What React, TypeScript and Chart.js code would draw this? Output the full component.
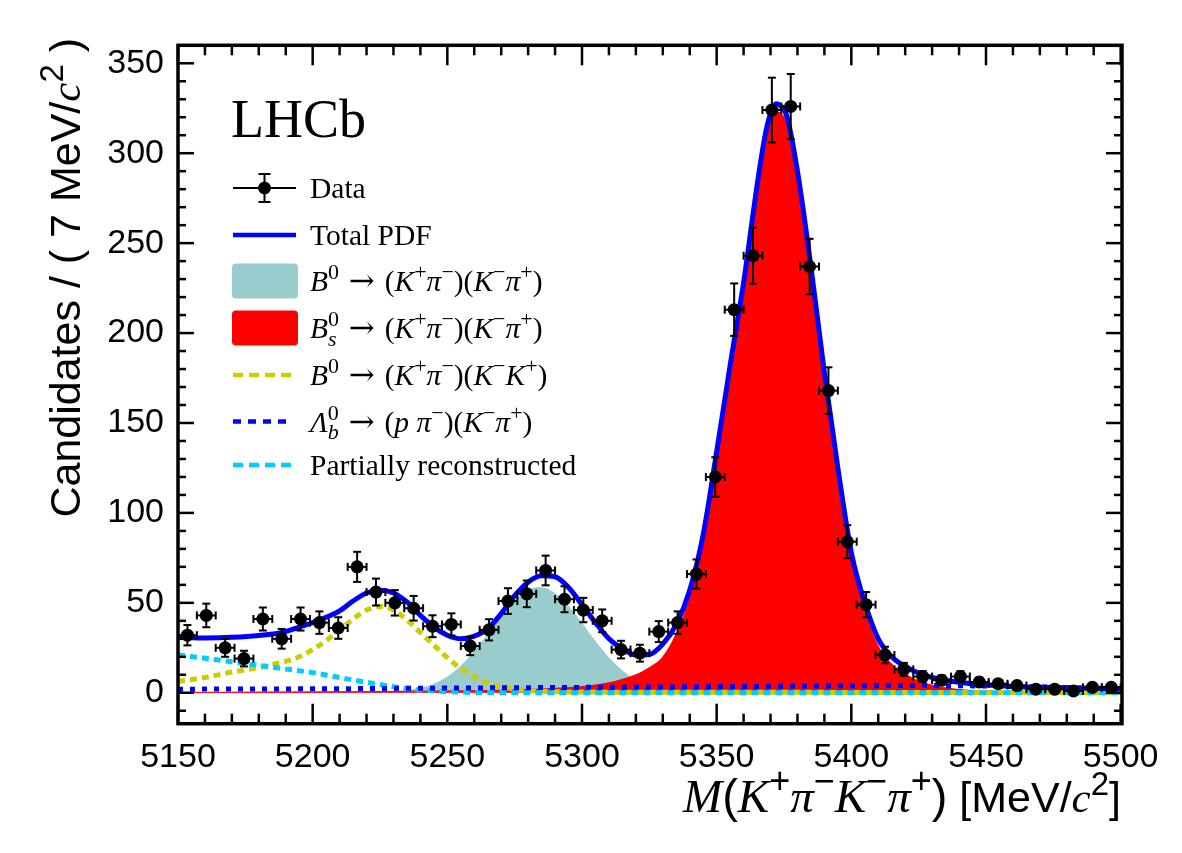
import React, { useEffect, useRef } from "react";
import { Chart, registerables } from "chart.js";

Chart.register(...registerables);

const WIDTH = 1182;
const HEIGHT = 853;

// ---- Binned data: candidates per 7 MeV/c^2 bin ----
const BIN_CENTERS = [
  5153.5, 5160.5, 5167.5, 5174.5, 5181.5, 5188.5, 5195.5, 5202.5, 5209.5, 5216.5,
  5223.5, 5230.5, 5237.5, 5244.5, 5251.5, 5258.5, 5265.5, 5272.5, 5279.5, 5286.5,
  5293.5, 5300.5, 5307.5, 5314.5, 5321.5, 5328.5, 5335.5, 5342.5, 5349.5, 5356.5,
  5363.5, 5370.5, 5377.5, 5384.5, 5391.5, 5398.5, 5405.5, 5412.5, 5419.5, 5426.5,
  5433.5, 5440.5, 5447.5, 5454.5, 5461.5, 5468.5, 5475.5, 5482.5, 5489.5, 5496.5,
];
const COUNTS = [
  32, 43, 25, 19, 41, 30, 41, 39, 36, 70,
  56, 50, 47, 37, 38, 26, 35, 51, 55, 68,
  52, 46, 40, 24, 22, 34, 39, 66, 120, 213,
  243, 324, 326, 237, 168, 84, 49, 21, 13, 9,
  7, 9, 6, 5, 4, 2, 2, 1, 3, 3,
];
const BIN_HALF_WIDTH = 3.5;

// ---- Fit model curves ----
const TOTAL_X = [
  5150, 5160, 5170, 5180, 5190, 5195, 5200, 5205, 5210, 5215, 5220, 5225, 5230, 5235, 5240,
  5245, 5250, 5255, 5260, 5265, 5270, 5275, 5280, 5285, 5290, 5295, 5300, 5305, 5310, 5315,
  5320, 5325, 5330, 5335, 5340, 5345, 5350, 5355, 5360, 5365, 5368, 5370, 5372, 5374, 5376,
  5380, 5385, 5390, 5395, 5400, 5405, 5410, 5415, 5420, 5425, 5430, 5435, 5440, 5450, 5460,
  5470, 5480, 5490, 5500.5,
];
const TOTAL_Y = [
  31, 30.5, 30.8, 31.8, 34, 36.5, 39, 42, 45.5, 51, 55.5, 57, 55.5, 50.5, 43,
  36.5, 32, 30, 31.5, 35.5, 44, 54, 61.5, 65, 64.5, 58.5, 49, 39, 30, 24.5,
  21, 21.3, 27, 38, 57, 88, 134, 182, 228, 282, 310, 322, 327.5, 326, 321,
  290, 237, 178, 125, 78, 50, 30, 20, 14.5, 11, 8.5, 7, 5.8, 4.3, 3.5,
  3.1, 2.8, 2.5, 2.2,
];

const BS_X = [
  5150, 5200, 5250, 5280, 5300, 5310, 5315, 5320, 5325, 5330, 5335, 5340, 5345, 5350, 5355,
  5360, 5365, 5368, 5370, 5372, 5374, 5376, 5380, 5385, 5390, 5395, 5400, 5405, 5410, 5415,
  5420, 5425, 5430, 5435, 5440, 5450, 5460, 5480, 5500.5,
];
const BS_Y = [
  0.2, 0.5, 1, 1.8, 3.5, 5.5, 7.5, 10, 14, 20, 33, 53, 84, 130, 178,
  224, 278, 306, 318, 323, 322, 317, 286, 233, 174, 120, 74.5, 46, 26, 16,
  10.5, 6.5, 4.2, 2.8, 1.8, 0.8, 0.4, 0.15, 0.05,
];

const BD_X = [
  5150, 5220, 5230, 5235, 5240, 5245, 5250, 5255, 5260, 5265, 5270, 5275, 5280, 5284,
  5288, 5293, 5298, 5303, 5308, 5313, 5318, 5323, 5328, 5333, 5340, 5350, 5500.5,
];
const BD_Y = [
  0, 0.07, 0.5, 1.2, 2.5, 4.8, 8.8, 14.8, 22.8, 32.4, 42.5, 51.2, 57, 58.5,
  57, 51.2, 42.5, 32.4, 22.8, 14.8, 8.8, 4.8, 2.5, 1.2, 0.35, 0.05, 0,
];

const BDKK_X = [
  5150, 5160, 5170, 5180, 5190, 5195, 5200, 5205, 5210, 5215, 5220, 5225, 5230, 5235,
  5240, 5245, 5250, 5255, 5260, 5265, 5270, 5275, 5280, 5290, 5300, 5350, 5400, 5500.5,
];
const BDKK_Y = [
  6.3, 8.5, 11.5, 14, 17.5, 20, 24, 29, 35, 41, 46, 48, 46, 40.5,
  33.5, 26.5, 19.5, 13.5, 9, 5.5, 3.3, 2, 1.2, 0.6, 0.4, 0.3, 0.2, 0.1,
];

const LB_X = [5150, 5200, 5250, 5300, 5350, 5400, 5420, 5440, 5460, 5480, 5500.5];
const LB_Y = [2, 2.2, 2.6, 3.0, 3.4, 3.9, 4, 3.9, 3.5, 2.9, 2.2];

const PR_X = [5150, 5160, 5170, 5180, 5190, 5200, 5210, 5220, 5230, 5240, 5250, 5260, 5280, 5500.5];
const PR_Y = [21, 19.2, 17.2, 15.2, 13.2, 11.2, 8.5, 5.8, 3.4, 1.6, 0.6, 0.2, 0.05, 0];

// ---- Axes ----
const X_MIN = 5150;
const X_MAX = 5500.5;
const Y_MIN = -17.2;
const Y_MAX = 360;
const X_TICKS = [5150, 5200, 5250, 5300, 5350, 5400, 5450, 5500];
const Y_TICKS = [0, 50, 100, 150, 200, 250, 300, 350];
const X_MINOR_STEP = 10;
const Y_MINOR_STEP = 10;

// ---- Colours ----
const BLUE = "#0000ff";
const TEAL = "#99cccc";
const RED = "#ff0000";
const OLIVE = "#cccc00";
const CYAN = "#00ccff";

const SERIF = "'Liberation Serif', 'Times New Roman', serif";
const SANS = "'Liberation Sans', Arial, Helvetica, sans-serif";
const ARROW_FONT = "'DejaVu Serif', 'Liberation Serif', serif";

const pts = (xs: number[], ys: number[]) => xs.map((x, i) => ({ x, y: ys[i] }));

// ---- Rich text (italics, super- and subscripts) ----
type Piece = { text: string; font: string; dy: number };
type Seg = Piece | { stack: Piece[] };

const rm = (text: string, size: number, fam = SERIF): Piece => ({ text, font: `${size}px ${fam}`, dy: 0 });
const it = (text: string, size: number): Piece => ({ text, font: `italic ${size}px ${SERIF}`, dy: 0 });
const arrow = (size: number): Piece => ({ text: " \u2192 ", font: `${Math.round(size * 1.05)}px ${ARROW_FONT}`, dy: 0 });
const sup = (text: string, size: number, fam = SERIF): Piece => ({
  text,
  font: `${Math.round(size * 0.76)}px ${fam}`,
  dy: -size * 0.4,
});
const subIt = (text: string, size: number): Piece => ({
  text,
  font: `italic ${Math.round(size * 0.76)}px ${SERIF}`,
  dy: size * 0.26,
});

function pieceWidth(ctx: CanvasRenderingContext2D, p: Piece) {
  ctx.font = p.font;
  return ctx.measureText(p.text).width;
}
function segWidth(ctx: CanvasRenderingContext2D, s: Seg) {
  if ("stack" in s) return Math.max(...s.stack.map((p) => pieceWidth(ctx, p)));
  return pieceWidth(ctx, s);
}
function drawRich(
  ctx: CanvasRenderingContext2D,
  segs: Seg[],
  x: number,
  y: number,
  align: "left" | "right" = "left"
) {
  const total = segs.reduce((a, s) => a + segWidth(ctx, s), 0);
  let cx = align === "right" ? x - total : x;
  ctx.textAlign = "left";
  ctx.textBaseline = "alphabetic";
  for (const s of segs) {
    const w = segWidth(ctx, s);
    const pieces = "stack" in s ? s.stack : [s];
    for (const p of pieces) {
      ctx.font = p.font;
      ctx.fillText(p.text, cx, y + p.dy);
    }
    cx += w;
  }
}

const L = 29.5; // legend text size
const LEGEND_ROWS: { kind: string; color?: string; dash?: number[]; y: number; label: Seg[] }[] = [
  { kind: "data", y: 188, label: [rm("Data", L)] },
  { kind: "line", color: BLUE, dash: [], y: 235, label: [rm("Total PDF", L)] },
  {
    kind: "box",
    color: TEAL,
    y: 281,
    label: [
      it("B", L), sup("0", L), arrow(L), rm("(", L), it("K", L), sup("+", L), it("\u03c0", L), sup("\u2212", L),
      rm(")(", L), it("K", L), sup("\u2212", L), it("\u03c0", L), sup("+", L), rm(")", L),
    ],
  },
  {
    kind: "box",
    color: RED,
    y: 328,
    label: [
      it("B", L), { stack: [sup("0", L), subIt("s", L)] }, arrow(L), rm("(", L), it("K", L), sup("+", L),
      it("\u03c0", L), sup("\u2212", L), rm(")(", L), it("K", L), sup("\u2212", L), it("\u03c0", L),
      sup("+", L), rm(")", L),
    ],
  },
  {
    kind: "line",
    color: OLIVE,
    dash: [10, 6],
    y: 375,
    label: [
      it("B", L), sup("0", L), arrow(L), rm("(", L), it("K", L), sup("+", L), it("\u03c0", L), sup("\u2212", L),
      rm(")(", L), it("K", L), sup("\u2212", L), it("K", L), sup("+", L), rm(")", L),
    ],
  },
  {
    kind: "line",
    color: BLUE,
    dash: [8, 7],
    y: 421.5,
    label: [
      it("\u039b", L), { stack: [sup("0", L), subIt("b", L)] }, arrow(L), rm("(", L), it("p", L), rm(" ", L),
      it("\u03c0", L), sup("\u2212", L), rm(")(", L), it("K", L), sup("\u2212", L), it("\u03c0", L),
      sup("+", L), rm(")", L),
    ],
  },
  { kind: "line", color: CYAN, dash: [10, 6], y: 465, label: [rm("Partially reconstructed", L)] },
];

const T = 43; // axis title size (sans parts)
const TM = 47; // math parts of the mass-axis title
const X_TITLE: Seg[] = [
  it("M", TM), rm("(", TM, SANS), it("K", TM), sup("+", TM, SANS), it("\u03c0", TM), sup("\u2212", TM, SANS),
  it("K", TM), sup("\u2212", TM, SANS), it("\u03c0", TM), sup("+", TM, SANS), rm(")", TM, SANS),
  rm(" [MeV/", T, SANS), it("c", T), sup("2", T, SANS), rm("]", T, SANS),
];
const Y_TITLE: Seg[] = [rm("Candidates / ( 7 MeV/", T, SANS), it("c", T), sup("2", T, SANS), rm(" )", T, SANS)];

function errorBars(chart: any) {
  const ctx: CanvasRenderingContext2D = chart.ctx;
  const xs = chart.scales.x;
  const ys = chart.scales.y;
  ctx.save();
  ctx.strokeStyle = "#000";
  ctx.lineWidth = 2;
  const cap = 4;
  const seg = (x0: number, y0: number, x1: number, y1: number) => {
    ctx.beginPath();
    ctx.moveTo(x0, y0);
    ctx.lineTo(x1, y1);
    ctx.stroke();
  };
  BIN_CENTERS.forEach((c, i) => {
    const n = COUNTS[i];
    const e = Math.sqrt(n);
    const px = xs.getPixelForValue(c);
    const py = ys.getPixelForValue(n);
    const x0 = xs.getPixelForValue(c - BIN_HALF_WIDTH);
    const x1 = xs.getPixelForValue(c + BIN_HALF_WIDTH);
    const y0 = ys.getPixelForValue(n + e);
    const y1 = ys.getPixelForValue(n - e);
    seg(x0, py, x1, py);
    seg(px, y0, px, y1);
    seg(px - cap, y0, px + cap, y0);
    seg(px - cap, y1, px + cap, y1);
    seg(x0, py - cap, x0, py + cap);
    seg(x1, py - cap, x1, py + cap);
  });
  ctx.restore();
}

function drawDecorations(chart: any) {
  const ctx: CanvasRenderingContext2D = chart.ctx;
  const { left, right, top, bottom } = chart.chartArea;
  const xs = chart.scales.x;
  const ys = chart.scales.y;
  ctx.save();
  ctx.strokeStyle = "#000";
  ctx.fillStyle = "#000";

  // tick marks on all four sides, pointing inwards
  ctx.lineWidth = 2.5;
  const line = (x0: number, y0: number, x1: number, y1: number) => {
    ctx.beginPath();
    ctx.moveTo(x0, y0);
    ctx.lineTo(x1, y1);
    ctx.stroke();
  };
  for (let v = X_MIN; v <= X_MAX + 1e-6; v += X_MINOR_STEP) {
    const major = X_TICKS.includes(v);
    const len = major ? 20 : 10;
    const px = xs.getPixelForValue(v);
    line(px, bottom, px, bottom - len);
    line(px, top, px, top + len);
  }
  for (let v = -10; v <= Y_MAX; v += Y_MINOR_STEP) {
    const major = Y_TICKS.includes(v);
    const len = major ? 16 : 8;
    const py = ys.getPixelForValue(v);
    line(left, py, left + len, py);
    line(right, py, right - len, py);
  }

  // frame
  ctx.lineWidth = 3.5;
  ctx.strokeRect(left, top, right - left, bottom - top);

  // axis titles
  drawRich(ctx, X_TITLE, 1121, 812, "right");
  ctx.save();
  ctx.translate(80, 38);
  ctx.rotate(-Math.PI / 2);
  drawRich(ctx, Y_TITLE, 0, 0, "right");
  ctx.restore();

  // experiment label
  ctx.font = `54px ${SERIF}`;
  ctx.textAlign = "left";
  ctx.textBaseline = "alphabetic";
  ctx.fillText("LHCb", 231, 137);

  // legend
  const sx0 = 233;
  const sx1 = 296;
  for (const row of LEGEND_ROWS) {
    const y = row.y;
    ctx.setLineDash([]);
    if (row.kind === "data") {
      const cx = (sx0 + sx1) / 2;
      ctx.lineWidth = 2;
      line(sx0, y, sx1, y);
      line(cx, y - 14, cx, y + 14);
      line(cx - 6, y - 14, cx + 6, y - 14);
      line(cx - 6, y + 14, cx + 6, y + 14);
      ctx.beginPath();
      ctx.arc(cx, y, 6.5, 0, Math.PI * 2);
      ctx.fill();
    } else if (row.kind === "box") {
      ctx.fillStyle = row.color!;
      ctx.beginPath();
      (ctx as any).roundRect(232, y - 17.5, 66, 35, 4);
      ctx.fill();
      ctx.fillStyle = "#000";
    } else {
      ctx.strokeStyle = row.color!;
      ctx.lineWidth = 4.5;
      ctx.setLineDash(row.dash!);
      line(sx0, y, row.dash!.length ? 291 : sx1, y);
      ctx.setLineDash([]);
      ctx.strokeStyle = "#000";
    }
    ctx.fillStyle = "#000";
    drawRich(ctx, row.label, 310, y + 10, "left");
  }
  ctx.restore();
}

const decorations = {
  id: "decorations",
  beforeDatasetDraw(chart: any, args: any) {
    if (args.index === 0) errorBars(chart);
  },
  afterDraw(chart: any) {
    drawDecorations(chart);
  },
};

export default function App() {
  const ref = useRef<HTMLCanvasElement>(null);
  useEffect(() => {
    const curve = (label: string, xs: number[], ys: number[], extra: any) => ({
      label,
      data: pts(xs, ys),
      showLine: true,
      pointRadius: 0,
      cubicInterpolationMode: "monotone",
      ...extra,
    });
    const chart = new Chart(ref.current!, {
      type: "scatter",
      data: {
        datasets: [
          {
            label: "Data",
            data: pts(BIN_CENTERS, COUNTS),
            showLine: false,
            pointRadius: 6.5,
            pointBackgroundColor: "#000",
            pointBorderWidth: 0,
          } as any,
          curve("Total PDF", TOTAL_X, TOTAL_Y, { borderColor: BLUE, borderWidth: 5 }),
          curve("Lb", LB_X, LB_Y, { borderColor: BLUE, borderWidth: 5, borderDash: [5, 7] }),
          curve("Part reco", PR_X, PR_Y, { borderColor: CYAN, borderWidth: 5, borderDash: [7, 5] }),
          curve("B0 KK", BDKK_X, BDKK_Y, { borderColor: OLIVE, borderWidth: 5, borderDash: [7, 5] }),
          curve("Bs", BS_X, BS_Y, { borderColor: RED, borderWidth: 1, backgroundColor: RED, fill: "origin" }),
          curve("B0", BD_X, BD_Y, { borderColor: TEAL, borderWidth: 1, backgroundColor: TEAL, fill: "origin" }),
        ],
      },
      options: {
        responsive: false,
        animation: false,
        events: [],
        layout: { padding: { left: 0, top: 45.3, right: 60, bottom: 0 } },
        plugins: { legend: { display: false }, tooltip: { enabled: false } },
        scales: {
          x: {
            type: "linear",
            min: X_MIN,
            max: X_MAX,
            grid: { display: false, drawTicks: false },
            border: { display: false },
            ticks: {
              font: { family: SANS, size: 34 },
              color: "#000",
              padding: 14,
              maxRotation: 0,
              autoSkip: false,
              callback: (v: any) => String(v),
            },
            afterBuildTicks: (s: any) => {
              s.ticks = X_TICKS.map((v) => ({ value: v }));
            },
            afterFit: (s: any) => {
              s.height = HEIGHT - 723.7;
            },
          },
          y: {
            type: "linear",
            min: Y_MIN,
            max: Y_MAX,
            grid: { display: false, drawTicks: false },
            border: { display: false },
            ticks: {
              font: { family: SANS, size: 34 },
              color: "#000",
              padding: 14,
              callback: (v: any) => String(v),
            },
            afterBuildTicks: (s: any) => {
              s.ticks = Y_TICKS.map((v) => ({ value: v }));
            },
            afterFit: (s: any) => {
              s.width = 178;
            },
          },
        },
      } as any,
      plugins: [decorations],
    });
    return () => chart.destroy();
  }, []);
  return (
    <div style={{ position: "fixed", left: 0, top: 0, width: WIDTH, height: HEIGHT, background: "#fff" }}>
      <canvas ref={ref} width={WIDTH} height={HEIGHT} style={{ width: WIDTH, height: HEIGHT, display: "block" }} />
    </div>
  );
}
